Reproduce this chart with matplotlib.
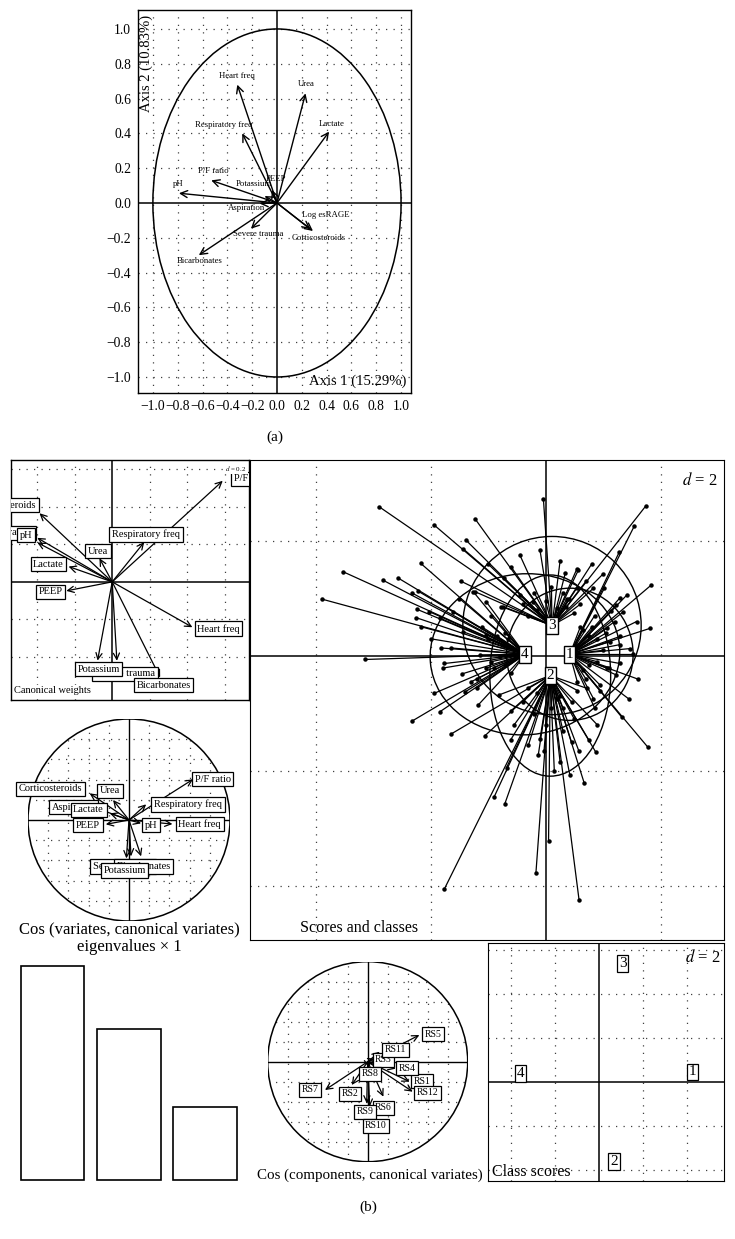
import matplotlib
matplotlib.use('Agg')
import matplotlib.pyplot as plt
from matplotlib.patches import Circle, Ellipse
from matplotlib.collections import LineCollection

plt.rcParams['font.family'] = ['Liberation Serif', 'DejaVu Serif']
plt.rcParams['mathtext.fontset'] = 'stix'

# ---------------- data ----------------
# (a) correlation circle
pca_names = ['Heart freq', 'Urea', 'Lactate', 'Respiratory freq', 'P/F ratio', 'pH',
             'Potassium', 'PEEP', 'Aspiration', 'Severe trauma', 'Bicarbonates',
             'Log esRAGE', 'Corticosteroids']
pca_x = [-0.32, 0.23, 0.42, -0.28, -0.53, -0.79, -0.10, -0.04, -0.14, -0.21, -0.63, 0.27, 0.29]
pca_y = [0.68, 0.63, 0.41, 0.40, 0.13, 0.056, 0.04, 0.075, -0.003, -0.148, -0.30, -0.151, -0.161]
pca_ticks = [-1.0, -0.8, -0.6, -0.4, -0.2, 0.0, 0.2, 0.4, 0.6, 0.8, 1.0]
axis1_label = 'Axis 1 (15.29%)'
axis2_label = 'Axis 2 (10.83%)'

# (b) canonical weights
cw_names = ['Corticosteroids', 'Aspiration', 'pH', 'Urea', 'Respiratory freq', 'Lactate',
            'PEEP', 'Heart freq', 'Severe trauma', 'Potassium', 'Bicarbonates', 'P/F ratio']
cw_x = [-0.388, -0.40, -0.40, -0.068, 0.171, -0.233, -0.245, 0.428, 0.025, -0.078, 0.256, 0.59]
cw_y = [0.366, 0.235, 0.21, 0.126, 0.212, 0.082, -0.048, -0.242, -0.421, -0.42, -0.51, 0.539]

# (b) cos(variates, canonical variates)
cv_names = ['Corticosteroids', 'Urea', 'Aspiration', 'Lactate', 'P/F ratio', 'Respiratory freq',
            'PEEP', 'pH', 'Heart freq', 'Severe trauma', 'Bicarbonates', 'Potassium']
cv_x = [-0.39, -0.158, -0.33, -0.19, 0.634, 0.17, -0.23, 0.12, 0.43, 0.02, 0.12, -0.026]
cv_y = [0.264, 0.198, 0.12, 0.066, 0.403, 0.155, -0.043, -0.033, -0.04, -0.36, -0.36, -0.38]

# (b) eigenvalues
eig_values = [1.0, 0.707, 0.343]

# (b) cos(components, canonical variates)
rs_names = ['RS1', 'RS2', 'RS3', 'RS4', 'RS5', 'RS6', 'RS7', 'RS8', 'RS9', 'RS10', 'RS11', 'RS12']
rs_x = [0.42, -0.16, 0.08, 0.28, 0.517, 0.157, -0.427, 0.01, -0.01, 0.02, 0.12, 0.45]
rs_y = [-0.20, -0.233, 0.03, -0.07, 0.267, -0.35, -0.283, -0.06, -0.417, -0.45, 0.10, -0.30]

# (b) scores and classes
class_ids = ['1', '2', '3', '4']
class_cx = [0.42, 0.08, 0.11, -0.36]
class_cy = [0.03, -0.34, 0.53, 0.03]
ell_w = [2.2, 2.1, 3.1, 3.3]
ell_h = [2.3, 3.5, 3.1, 2.8]
ell_angle = [0, 0, 0, 5]
score_x_1 = [1.54, 1.28, 1.83, 1.41, 1.29, 1.81, 1.58, 1.52, 1.29, 1.32, 1.78, 0.9, 1.1, 0.8, 1.0, 0.7,
             1.2, 0.95, 1.3, 1.02, 1.23, 1.14, 1.35, 1.06, 1.29, 1.12, 1.47, 1.06, 1.23, 0.94, 0.83,
             0.65, 0.75, 0.55, 0.85, 1.6, 1.45, 0.75, 0.65, 0.9, 0.6, 0.55, 0.85, 1.05]
score_y_1 = [2.26, 1.81, 1.23, 1.06, 1.01, 0.48, 0.60, 0.03, -0.13, -1.06, -1.59, 0.3, -0.2, 0.5, 0.1, -0.4,
             0.6, -0.6, 0.2, 1.18, 0.89, 0.78, 0.77, 0.48, 0.34, 0.25, 0.13, -0.21, -0.33, -0.50, -0.74,
             0.45, -0.15, 0.2, -0.9, -0.4, -0.75, 0.35, -0.25, -0.1, 0.5, -0.45, 0.7, 0.4]
score_x_2 = [-1.65, -1.06, -1.76, -0.61, -0.13, 0.58, 0.87, 0.42, 0.67, -0.68, -0.90, -0.71, 0.05, -0.17,
             0.58, -0.03, 0.25, 0.75, 0.3, -0.2, 0.5, 0.0, -0.4, 0.3, 0.71, -0.82, -0.55, 0.45, -0.3,
             0.15, 0.9, -0.6, 0.2, -0.1, 0.25, -0.15, 0.45, -0.3, 0.1, 0.55]
score_y_2 = [-1.36, -1.39, -4.05, -1.46, -1.73, -1.66, -1.67, -2.07, -2.21, -1.94, -2.46, -2.57, -3.22, -3.78,
             -4.24, -1.66, -1.84, -1.46, -0.9, -1.0, -1.1, -1.2, -0.8, -1.3, -0.56, -0.68, -1.2, -1.5,
             -1.55, -2.0, -1.2, -0.95, -0.75, -1.45, -0.7, -0.65, -0.8, -0.55, -0.9, -0.6]
score_x_3 = [-2.90, -1.94, -1.23, -1.44, -1.47, -0.04, 1.74, 0.54, -0.73, -1.23, 1.00, 0.83, -0.74, -1.39,
             0.34, -0.45, 0.4, -0.2, 0.6, 0.1, -0.4, 0.57, -0.45, -0.22, 0.37, 0.54, 0.19, -0.77, 0.8,
             -0.6, 0.25, -0.1, 0.7, -1.0, 0.35, -0.15, 0.5, 0.0, -0.3, 0.3]
score_y_3 = [2.60, 2.28, 2.39, 1.87, 1.30, 2.74, 2.61, 1.51, 1.36, 1.12, 1.43, 1.18, 0.86, 2.02,
             1.44, 1.76, 1.0, 1.1, 0.9, 1.2, 0.9, 1.50, 1.06, 0.94, 1.00, 1.18, 0.83, 0.86, 1.6,
             1.55, 1.65, 1.85, 1.3, 1.6, 0.85, 0.8, 0.75, 0.95, 0.7, 1.1]
score_x_4 = [-2.17, -3.53, -2.83, -2.57, -2.33, -2.22, -3.89, -2.23, -2.02, -2.26, -2.17, -1.82, -1.64, -3.14,
             -1.76, -1.79, -1.45, -1.94, -1.41, -1.84, -2.32, -1.18, -1.0, -0.9, -1.1, -0.8, -1.2, -0.7,
             -1.26, -1.03, -1.61, -1.84, -1.43, -1.03, -1.14, -1.03, -1.20, -1.5, -2.0, -1.3, -0.95,
             -0.75, -0.7, -0.85, -0.6, -0.95, -0.65]
score_y_4 = [1.61, 1.47, 1.32, 1.36, 1.10, 1.13, 0.99, 0.81, 0.77, 0.67, 0.51, 0.14, 0.14, -0.06,
             -0.13, -0.21, -0.31, -0.65, -0.63, -0.97, -1.13, -0.86, 0.3, -0.2, 0.5, 0.0, -0.4, 0.4,
             1.12, 0.94, 0.77, 0.66, 0.42, 0.37, 0.02, -0.21, -0.56, 1.0, 0.3, -0.45, 0.7,
             0.2, -0.15, 0.35, -0.3, -0.1, 0.3]

# (b) class scores
cs_x = [4.26, 0.70, 1.10, -3.56]
cs_y = [0.44, -3.62, 5.36, 0.36]

# ---------------- layout helpers ----------------
W, H = 735, 1239
fig = plt.figure(figsize=(W / 100, H / 100), dpi=100)


def add_px(x0, y0, x1, y1):
    return fig.add_axes([x0 / W, 1 - y1 / H, (x1 - x0) / W, (y1 - y0) / H])


def fig_text(px, py, s, **kw):
    fig.text(px / W, 1 - py / H, s, **kw)


DOT = (0, (1, 5))
GRID_KW = dict(color='0.25', lw=0.9, ls=DOT, zorder=0)


def grid(ax, xs, ys, clip=None):
    for v in xs:
        ln = ax.axvline(v, **GRID_KW)
        if clip is not None:
            ln.set_clip_path(clip)
    for v in ys:
        ln = ax.axhline(v, **GRID_KW)
        if clip is not None:
            ln.set_clip_path(clip)


def arrow(ax, x, y, lw=0.9, hl=0.45, hw=0.22, clip=True):
    a = ax.annotate('', xy=(x, y), xytext=(0, 0),
                    arrowprops=dict(arrowstyle=f'->,head_length={hl},head_width={hw}',
                                    lw=lw, color='black', shrinkA=0, shrinkB=0),
                    annotation_clip=False)
    a.arrow_patch.set_clip_on(clip)
    return a


BOX = dict(boxstyle='square,pad=0.25', fc='white', ec='black', lw=0.9)

# ---------------- (a) ----------------
axA = add_px(138, 10, 411, 393)
axA.set_xlim(-1.12, 1.08)
axA.set_ylim(-1.092, 1.109)
grid(axA, [t for t in pca_ticks if t != 0], [t for t in pca_ticks if t != 0])
axA.axhline(0, color='black', lw=1.1)
axA.axvline(0, color='black', lw=1.1)
axA.add_patch(Ellipse((0, 0), 2, 2, fill=False, lw=1.1, color='black'))
a_off = {'Heart freq': (0.0, 0.052), 'Urea': (0.01, 0.052), 'Lactate': (0.02, 0.046),
         'Respiratory freq': (-0.147, 0.05), 'P/F ratio': (0.02, 0.052), 'pH': (-0.01, 0.051),
         'Potassium': (-0.09, 0.07), 'PEEP': (0.03, 0.065), 'Aspiration': (-0.105, -0.027),
         'Severe trauma': (0.055, -0.03), 'Bicarbonates': (0.01, -0.033),
         'Log esRAGE': (0.12, 0.082), 'Corticosteroids': (0.047, -0.039)}
for n, x, y in zip(pca_names, pca_x, pca_y):
    arrow(axA, x, y, lw=1.0, hl=0.5, hw=0.25)
    dx, dy = a_off[n]
    axA.text(x + dx, y + dy, n, fontsize=6.3, ha='center', va='center')
axA.set_xticks(pca_ticks)
axA.set_yticks(pca_ticks)
fmt = [f'{t:.1f}'.replace('-', '\u2212') for t in pca_ticks]
axA.set_xticklabels(fmt)
axA.set_yticklabels(fmt)
axA.tick_params(length=0, labelsize=9.8, pad=5)
for s in axA.spines.values():
    s.set_linewidth(1.0)
axA.text(0.982, 0.03, axis1_label, transform=axA.transAxes, ha='right', va='center', fontsize=10.5)
axA.text(0.03, 0.988, axis2_label, transform=axA.transAxes, ha='center', va='top',
         rotation=90, fontsize=10.5)
fig_text(275, 437, '(a)', ha='center', va='center', fontsize=11)

# ---------------- (b) canonical weights ----------------
axW = add_px(11, 460, 249, 700)
axW.set_xlim(-0.54, 0.73)
axW.set_ylim(-0.63, 0.65)
grid(axW, [-0.4, -0.2, 0.2, 0.4, 0.6], [-0.4, -0.2, 0.2, 0.4, 0.6])
axW.axhline(0, color='black', lw=1.1)
axW.axvline(0, color='black', lw=1.1)
w_lab = {'Corticosteroids': (-0.575, 0.408), 'Aspiration': (-0.535, 0.262), 'pH': (-0.459, 0.25),
         'Urea': (-0.076, 0.164), 'Respiratory freq': (0.18, 0.254), 'Lactate': (-0.34, 0.094),
         'PEEP': (-0.33, -0.052), 'Heart freq': (0.567, -0.25), 'Severe trauma': (0.068, -0.49),
         'Potassium': (-0.073, -0.466), 'Bicarbonates': (0.274, -0.55), 'P/F ratio': (0.745, 0.549)}
for n, x, y in zip(cw_names, cw_x, cw_y):
    arrow(axW, x, y)
for n in cw_names:
    lx, ly = w_lab[n]
    axW.text(lx, ly, n, fontsize=7.5, ha='center', va='center', bbox=BOX, clip_on=True)
axW.text(0.99, 0.985, '$d$ = 0.2', transform=axW.transAxes, ha='right', va='top', fontsize=5,
         bbox=dict(boxstyle='square,pad=0.15', fc='white', ec='none'))
axW.text(0.012, 0.022, 'Canonical weights', transform=axW.transAxes, ha='left', va='bottom',
         fontsize=7.5, bbox=dict(boxstyle='square,pad=0.1', fc='white', ec='none'))
axW.set_xticks([])
axW.set_yticks([])
for s in axW.spines.values():
    s.set_linewidth(1.0)

# ---------------- (b) cos variates ----------------
axC = add_px(28, 719, 230, 921)
axC.set_xlim(-1, 1)
axC.set_ylim(-1, 1)
axC.axis('off')
circC = Circle((0, 0), 1, fill=False, lw=1.1, color='black')
axC.add_patch(circC)
g = [-0.8, -0.6, -0.4, -0.2, 0.2, 0.4, 0.6, 0.8]
grid(axC, g, g, clip=circC)
for fn in (axC.axhline, axC.axvline):
    ln = fn(0, color='black', lw=1.0)
    ln.set_clip_path(circC)
c_lab = {'Corticosteroids': (-0.78, 0.31), 'Urea': (-0.19, 0.29), 'Aspiration': (-0.55, 0.125),
         'Lactate': (-0.40, 0.10), 'P/F ratio': (0.83, 0.403), 'Respiratory freq': (0.584, 0.155),
         'PEEP': (-0.406, -0.05), 'pH': (0.22, -0.05), 'Heart freq': (0.70, -0.04),
         'Severe trauma': (-0.06, -0.46), 'Bicarbonates': (0.145, -0.46), 'Potassium': (-0.043, -0.50)}
for n, x, y in zip(cv_names, cv_x, cv_y):
    arrow(axC, x, y, clip=False)
for n in cv_names:
    lx, ly = c_lab[n]
    axC.text(lx, ly, n, fontsize=7.5, ha='center', va='center', bbox=BOX)
fig_text(129, 929, 'Cos (variates, canonical variates)', ha='center', va='center', fontsize=12)
fig_text(129, 947, 'eigenvalues \u00d7 1', ha='center', va='center', fontsize=12)

# ---------------- (b) eigenvalues ----------------
axE = add_px(14.5, 966, 242.7, 1180)
axE.bar(range(len(eig_values)), eig_values, width=0.84, color='white', edgecolor='black',
        lw=1.2, clip_on=False)
axE.set_xlim(-0.5, len(eig_values) - 0.5)
axE.set_ylim(0, max(eig_values))
axE.axis('off')

# ---------------- (b) scores and classes ----------------
axS = add_px(250, 460, 724, 940)
axS.set_xlim(-5.14, 3.1)
axS.set_ylim(-4.94, 3.41)
grid(axS, [-4, -2, 2], [-4, -2, 2])
axS.axhline(0, color='black', lw=1.1)
axS.axvline(0, color='black', lw=1.1)
score_x = [score_x_1, score_x_2, score_x_3, score_x_4]
score_y = [score_y_1, score_y_2, score_y_3, score_y_4]
for k in range(4):
    segs = [[(x, y), (class_cx[k], class_cy[k])] for x, y in zip(score_x[k], score_y[k])]
    axS.add_collection(LineCollection(segs, colors='black', lw=0.9, zorder=2))
    axS.plot(score_x[k], score_y[k], 'o', color='black', ms=2.2, zorder=3)
    axS.add_patch(Ellipse((class_cx[k], class_cy[k]), ell_w[k], ell_h[k], angle=ell_angle[k],
                          fill=False, lw=1.0, color='black', zorder=2))
for k in range(4):
    axS.text(class_cx[k], class_cy[k], class_ids[k], fontsize=11, ha='center', va='center', zorder=5,
             bbox=dict(boxstyle='square,pad=0.12', fc='white', ec='black', lw=1.0))
axS.text(0.985, 0.975, '$d$ = 2', transform=axS.transAxes, ha='right', va='top', fontsize=12)
axS.text(0.105, 0.008, 'Scores and classes', transform=axS.transAxes, ha='left', va='bottom',
         fontsize=11.5)
axS.set_xticks([])
axS.set_yticks([])

# ---------------- (b) cos components ----------------
axR = add_px(267.7, 961.7, 467.7, 1161.7)
axR.set_xlim(-1, 1)
axR.set_ylim(-1, 1)
axR.axis('off')
circR = Circle((0, 0), 1, fill=False, lw=1.1, color='black')
axR.add_patch(circR)
grid(axR, g, g, clip=circR)
for fn in (axR.axhline, axR.axvline):
    ln = fn(0, color='black', lw=1.0)
    ln.set_clip_path(circR)
r_lab = {'RS1': (0.54, -0.193), 'RS2': (-0.177, -0.323), 'RS3': (0.157, 0.017), 'RS4': (0.39, -0.067),
         'RS5': (0.65, 0.273), 'RS6': (0.157, -0.46), 'RS7': (-0.577, -0.283), 'RS8': (0.02, -0.123),
         'RS9': (-0.027, -0.50), 'RS10': (0.083, -0.64), 'RS11': (0.277, 0.117), 'RS12': (0.597, -0.31)}
for n, x, y in zip(rs_names, rs_x, rs_y):
    arrow(axR, x, y, clip=False)
for n in rs_names:
    lx, ly = r_lab[n]
    axR.text(lx, ly, n, fontsize=7, ha='center', va='center', bbox=BOX)
fig_text(370, 1175, 'Cos (components, canonical variates)', ha='center', va='center', fontsize=10.8)
fig_text(368, 1207, '(b)', ha='center', va='center', fontsize=11)

# ---------------- (b) class scores ----------------
axK = add_px(488, 943, 724, 1181)
axK.set_xlim(-5.03, 5.7)
axK.set_ylim(-4.52, 6.3)
grid(axK, [-4, -2, 2, 4], [-4, -2, 2, 4, 6])
axK.axhline(0, color='black', lw=1.1)
axK.axvline(0, color='black', lw=1.1)
for k in range(4):
    axK.text(cs_x[k], cs_y[k], class_ids[k], fontsize=11, ha='center', va='center',
             bbox=dict(boxstyle='square,pad=0.12', fc='white', ec='black', lw=0.9))
axK.text(0.985, 0.975, '$d$ = 2', transform=axK.transAxes, ha='right', va='top', fontsize=12)
axK.text(0.017, 0.005, 'Class scores', transform=axK.transAxes, ha='left', va='bottom', fontsize=11.5)
axK.set_xticks([])
axK.set_yticks([])

fig.savefig('out.png', dpi=100)
